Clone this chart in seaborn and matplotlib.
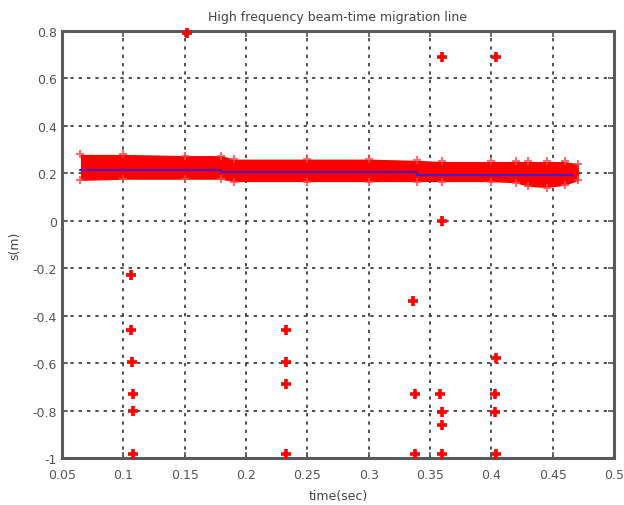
import matplotlib
matplotlib.use("Agg")
import matplotlib.pyplot as plt
import seaborn as sns
import pandas as pd

# Dense band of picks (edges)
band_x = [0.065, 0.10, 0.15, 0.18, 0.19, 0.25, 0.30, 0.339, 0.36, 0.40, 0.42, 0.43, 0.445, 0.46, 0.471]
band_upper = [0.28, 0.28, 0.275, 0.275, 0.26, 0.26, 0.26, 0.255, 0.25, 0.25, 0.25, 0.25, 0.25, 0.25, 0.24]
band_lower = [0.17, 0.175, 0.175, 0.175, 0.165, 0.165, 0.165, 0.165, 0.165, 0.165, 0.16, 0.145, 0.14, 0.15, 0.17]

# Fitted migration line (blue)
line_x = [0.065, 0.18, 0.18, 0.339, 0.339, 0.466]
line_y = [0.215, 0.215, 0.205, 0.205, 0.195, 0.195]

# Scattered outlier picks
out_x = [0.152, 0.36, 0.404, 0.36, 0.106, 0.106, 0.107, 0.108, 0.108, 0.108,
         0.2326, 0.2326, 0.2326, 0.2326, 0.336, 0.338, 0.338, 0.358, 0.36, 0.36,
         0.36, 0.404, 0.403, 0.403, 0.404]
out_y = [0.79, 0.69, 0.69, 0.0, -0.23, -0.46, -0.595, -0.73, -0.80, -0.985,
         -0.46, -0.595, -0.69, -0.985, -0.338, -0.73, -0.985, -0.73, -0.805, -0.86,
         -0.985, -0.58, -0.73, -0.805, -0.985]

xticks = [0.05, 0.1, 0.15, 0.2, 0.25, 0.3, 0.35, 0.4, 0.45, 0.5]
xtick_labels = ["0.05", "0.1", "0.15", "0.2", "0.25", "0.3", "0.35", "0.4", "0.45", "0.5"]
yticks = [0.8, 0.6, 0.4, 0.2, 0, -0.2, -0.4, -0.6, -0.8, -1]
ytick_labels = ["0.8", "0.6", "0.4", "0.2", "0", "-0.2", "-0.4", "-0.6", "-0.8", "-1"]

sns.set_style("white")
plt.rcParams['font.family'] = ['DejaVu Sans']

fig = plt.figure(figsize=(6.24, 5.06), dpi=100)
ax = fig.add_axes([62 / 624, 1 - 459 / 506, (614 - 62) / 624, (459 - 32) / 506])

ax.fill_between(band_x, band_lower, band_upper, color="#ff0000", linewidth=0, zorder=2)
band_df = pd.DataFrame({"x": band_x + band_x, "y": band_upper + band_lower})
sns.scatterplot(data=band_df, x="x", y="y", marker="+", s=35, color="#ff4a4a",
                linewidth=1.5, ax=ax, zorder=2, legend=False, alpha=0.8)

line_df = pd.DataFrame({"x": line_x, "y": line_y})
sns.lineplot(data=line_df, x="x", y="y", sort=False, color="#5a16b0", linewidth=1.6,
             ax=ax, zorder=3, legend=False, estimator=None)

out_df = pd.DataFrame({"x": out_x, "y": out_y})
sns.scatterplot(data=out_df, x="x", y="y", marker="+", s=55, color="#ff0000",
                linewidth=2.6, ax=ax, zorder=4, legend=False, clip_on=False)

ax.set_xlim(0.05, 0.5)
ax.set_ylim(-1, 0.8)
ax.set_xticks(xticks)
ax.set_xticklabels(xtick_labels)
ax.set_yticks(yticks)
ax.set_yticklabels(ytick_labels)
ax.grid(True, linestyle=(0, (2, 3)), color="#333333", linewidth=1.2)
ax.set_axisbelow(True)
ax.tick_params(direction="in", length=4, width=1.2, color="#555555",
               labelsize=9, labelcolor="#555555", top=True, right=True,
               bottom=True, left=True)
ax.tick_params(axis="x", pad=7)
for s in ax.spines.values():
    s.set_color("#5a5a5a")
    s.set_linewidth(2.2)

ax.set_title("High frequency beam-time migration line", fontsize=9, color="#444444", pad=8)
ax.set_xlabel("time(sec)", fontsize=9, color="#444444", labelpad=6)
ax.set_ylabel("s(m)", fontsize=9, color="#444444", labelpad=8)

fig.savefig("out.png", dpi=100)
